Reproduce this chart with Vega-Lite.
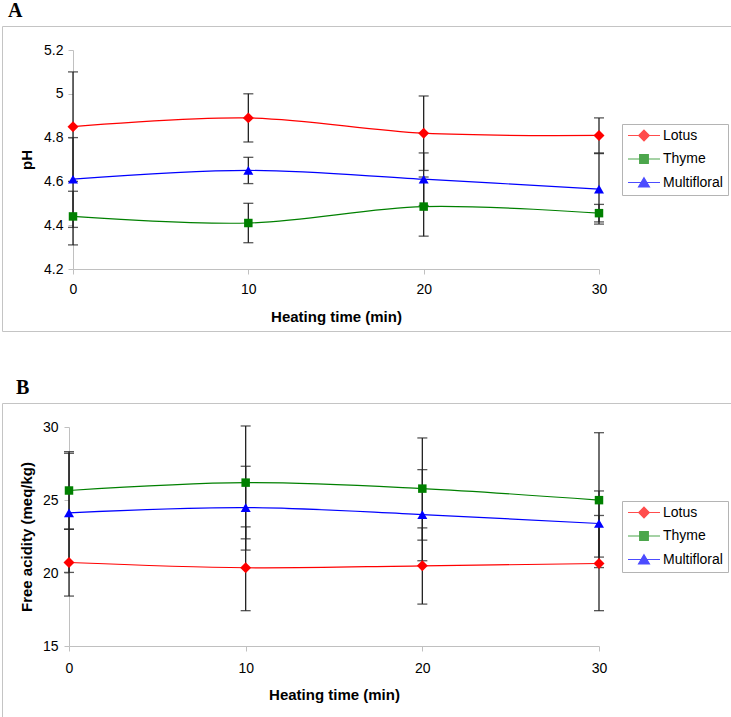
{
  "$schema": "https://vega.github.io/schema/vega-lite/v6.json",
  "background": "white",
  "padding": {"left": 1, "top": 0, "right": 0, "bottom": 0},
  "datasets": {
    "ph": [
      {"time": 0, "honey": "Lotus", "mean": 4.85, "lo": 4.60, "hi": 5.10},
      {"time": 10, "honey": "Lotus", "mean": 4.89, "lo": 4.78, "hi": 5.00},
      {"time": 20, "honey": "Lotus", "mean": 4.82, "lo": 4.65, "hi": 4.99},
      {"time": 30, "honey": "Lotus", "mean": 4.81, "lo": 4.73, "hi": 4.89},
      {"time": 0, "honey": "Thyme", "mean": 4.44, "lo": 4.31, "hi": 4.555},
      {"time": 10, "honey": "Thyme", "mean": 4.41, "lo": 4.32, "hi": 4.50},
      {"time": 20, "honey": "Thyme", "mean": 4.485, "lo": 4.35, "hi": 4.62},
      {"time": 30, "honey": "Thyme", "mean": 4.455, "lo": 4.415, "hi": 4.495},
      {"time": 0, "honey": "Multifloral", "mean": 4.61, "lo": 4.39, "hi": 4.80},
      {"time": 10, "honey": "Multifloral", "mean": 4.65, "lo": 4.59, "hi": 4.71},
      {"time": 20, "honey": "Multifloral", "mean": 4.61, "lo": 4.49, "hi": 4.73},
      {"time": 30, "honey": "Multifloral", "mean": 4.565, "lo": 4.405, "hi": 4.727}
    ],
    "fa": [
      {"time": 0, "honey": "Lotus", "mean": 20.72, "lo": 18.42, "hi": 23.0},
      {"time": 10, "honey": "Lotus", "mean": 20.36, "lo": 17.42, "hi": 23.16},
      {"time": 20, "honey": "Lotus", "mean": 20.49, "lo": 17.87, "hi": 23.09},
      {"time": 30, "honey": "Lotus", "mean": 20.65, "lo": 17.42, "hi": 23.94},
      {"time": 0, "honey": "Thyme", "mean": 25.65, "lo": 23.0, "hi": 28.31},
      {"time": 10, "honey": "Thyme", "mean": 26.19, "lo": 22.34, "hi": 30.07},
      {"time": 20, "honey": "Thyme", "mean": 25.78, "lo": 22.25, "hi": 29.25},
      {"time": 30, "honey": "Thyme", "mean": 24.99, "lo": 20.37, "hi": 29.61},
      {"time": 0, "honey": "Multifloral", "mean": 24.12, "lo": 20.04, "hi": 28.2},
      {"time": 10, "honey": "Multifloral", "mean": 24.48, "lo": 21.57, "hi": 27.31},
      {"time": 20, "honey": "Multifloral", "mean": 24.0, "lo": 20.84, "hi": 27.08},
      {"time": 30, "honey": "Multifloral", "mean": 23.39, "lo": 21.09, "hi": 25.62}
    ]
  },
  "spacing": 45,
  "resolve": {
    "scale": {"color": "independent", "stroke": "independent", "shape": "independent"},
    "legend": {"color": "independent", "stroke": "independent", "shape": "independent"}
  },
  "vconcat": [
    {
      "title": {"text": "A", "anchor": "start", "frame": "group", "font": "Liberation Serif", "fontSize": 20, "fontWeight": "bold", "color": "#000", "dx": 6, "offset": -11, "baseline": "alphabetic"},
      "width": 729,
      "height": 305,
      "data": {"name": "ph"},
      "encoding": {
        "x": {"field": "time", "type": "quantitative", "scale": {"domain": [0, 30], "range": [71, 597], "nice": false, "zero": false}, "axis": {"title": "Heating time (min)", "values": [0, 10, 20, 30], "offset": -62, "labelPadding": 8, "titleY": 47}},
        "y": {"field": "mean", "type": "quantitative", "scale": {"domain": [4.2, 5.2], "range": [243, 24], "nice": false, "zero": false}, "axis": {"title": "pH", "values": [4.2, 4.4, 4.6, 4.8, 5, 5.2], "format": "~g", "offset": -71, "labelPadding": 5, "titleX": -47}}
      },
      "layer": [
        {
          "mark": {"type": "errorbar", "ticks": {"size": 10, "color": "#111111", "thickness": 1.3}, "rule": {"color": "#222222", "strokeWidth": 1.3}},
          "encoding": {
            "y": {"field": "lo", "type": "quantitative", "scale": {"domain": [4.2, 5.2], "range": [243, 24], "nice": false, "zero": false}, "axis": {"title": "pH", "values": [4.2, 4.4, 4.6, 4.8, 5, 5.2], "format": "~g", "offset": -71, "labelPadding": 5, "titleX": -47}},
            "y2": {"field": "hi"}
          }
        },
        {
          "transform": [{"filter": {"field": "honey", "equal": "Thyme"}}],
          "mark": {"type": "line", "color": "#008000", "strokeWidth": 1.2, "interpolate": "catmull-rom", "point": {"filled": true, "shape": "square", "size": 72, "color": "#008000"}}
        },
        {
          "transform": [{"filter": {"field": "honey", "equal": "Multifloral"}}],
          "mark": {"type": "line", "color": "#0000ff", "strokeWidth": 1.2, "interpolate": "catmull-rom", "point": {"filled": true, "shape": "triangle-up", "size": 100, "color": "#0000ff"}}
        },
        {
          "transform": [{"filter": {"field": "honey", "equal": "Lotus"}}],
          "mark": {"type": "line", "color": "#ff0000", "strokeWidth": 1.2, "interpolate": "catmull-rom", "point": {"filled": true, "shape": "diamond", "size": 120, "color": "#ff0000"}}
        },
        {
          "transform": [{"filter": "datum.mean < 0"}],
          "mark": {"type": "point", "filled": true, "strokeWidth": 1.2},
          "encoding": {
            "color": {"field": "honey", "type": "nominal", "scale": {"domain": ["Lotus", "Thyme", "Multifloral"], "range": ["#ff0000", "#008000", "#0000ff"]}, "legend": {"title": null}},
            "stroke": {"field": "honey", "type": "nominal", "scale": {"domain": ["Lotus", "Thyme", "Multifloral"], "range": ["#ff0000", "#008000", "#0000ff"]}, "legend": {"title": null}},
            "shape": {"field": "honey", "type": "nominal", "scale": {"domain": ["Lotus", "Thyme", "Multifloral"], "range": ["M-1,0H1M0,-0.33L0.33,0L0,0.33L-0.33,0Z", "M-1,0H1M-0.27,-0.27H0.27V0.27H-0.27Z", "M-1,0H1M0,-0.3L0.34,0.28H-0.34Z"]}, "legend": {"title": null}}
          }
        }
      ]
    },
    {
      "title": {"text": "B", "anchor": "start", "frame": "group", "font": "Liberation Serif", "fontSize": 20, "fontWeight": "bold", "color": "#000", "dx": 14, "offset": -11, "baseline": "alphabetic"},
      "width": 729,
      "height": 315,
      "data": {"name": "fa"},
      "encoding": {
        "x": {"field": "time", "type": "quantitative", "scale": {"domain": [0, 30], "range": [67, 597], "nice": false, "zero": false}, "axis": {"title": "Heating time (min)", "values": [0, 10, 20, 30], "offset": -72, "labelPadding": 10, "titleY": 48}},
        "y": {"field": "mean", "type": "quantitative", "scale": {"domain": [15, 30], "range": [243, 24], "nice": false, "zero": false}, "axis": {"title": "Free acidity (meq/kg)", "values": [15, 20, 25, 30], "format": "~g", "offset": -67, "labelPadding": 6, "titleX": -43}}
      },
      "layer": [
        {
          "mark": {"type": "errorbar", "ticks": {"size": 10, "color": "#111111", "thickness": 1.3}, "rule": {"color": "#222222", "strokeWidth": 1.3}},
          "encoding": {
            "y": {"field": "lo", "type": "quantitative", "scale": {"domain": [15, 30], "range": [243, 24], "nice": false, "zero": false}, "axis": {"title": "Free acidity (meq/kg)", "values": [15, 20, 25, 30], "format": "~g", "offset": -67, "labelPadding": 6, "titleX": -43}},
            "y2": {"field": "hi"}
          }
        },
        {
          "transform": [{"filter": {"field": "honey", "equal": "Thyme"}}],
          "mark": {"type": "line", "color": "#008000", "strokeWidth": 1.2, "interpolate": "catmull-rom", "point": {"filled": true, "shape": "square", "size": 72, "color": "#008000"}}
        },
        {
          "transform": [{"filter": {"field": "honey", "equal": "Multifloral"}}],
          "mark": {"type": "line", "color": "#0000ff", "strokeWidth": 1.2, "interpolate": "catmull-rom", "point": {"filled": true, "shape": "triangle-up", "size": 100, "color": "#0000ff"}}
        },
        {
          "transform": [{"filter": {"field": "honey", "equal": "Lotus"}}],
          "mark": {"type": "line", "color": "#ff0000", "strokeWidth": 1.2, "interpolate": "catmull-rom", "point": {"filled": true, "shape": "diamond", "size": 120, "color": "#ff0000"}}
        },
        {
          "transform": [{"filter": "datum.mean < 0"}],
          "mark": {"type": "point", "filled": true, "strokeWidth": 1.2},
          "encoding": {
            "color": {"field": "honey", "type": "nominal", "scale": {"domain": ["Lotus", "Thyme", "Multifloral"], "range": ["#ff0000", "#008000", "#0000ff"]}, "legend": {"title": null}},
            "stroke": {"field": "honey", "type": "nominal", "scale": {"domain": ["Lotus", "Thyme", "Multifloral"], "range": ["#ff0000", "#008000", "#0000ff"]}, "legend": {"title": null}},
            "shape": {"field": "honey", "type": "nominal", "scale": {"domain": ["Lotus", "Thyme", "Multifloral"], "range": ["M-1,0H1M0,-0.33L0.33,0L0,0.33L-0.33,0Z", "M-1,0H1M-0.27,-0.27H0.27V0.27H-0.27Z", "M-1,0H1M0,-0.3L0.34,0.28H-0.34Z"]}, "legend": {"title": null}}
          }
        }
      ]
    }
  ],
  "config": {
    "font": "Liberation Sans",
    "view": {"stroke": "#c4c4c4", "strokeWidth": 1},
    "axis": {"grid": false, "domainColor": "#c0c0c0", "tickColor": "#c0c0c0", "tickSize": 5, "labelFont": "Liberation Sans", "labelFontSize": 14, "labelColor": "#000000", "titleFont": "Liberation Sans", "titleFontSize": 15, "titleFontWeight": "bold", "titleColor": "#000000", "titleBaseline": "middle", "labelFlush": false, "labelOverlap": false},
    "legend": {"orient": "none", "legendX": 620, "legendY": 98, "padding": 5, "strokeColor": "#b4b4b4", "labelFont": "Liberation Sans", "labelFontSize": 14, "labelColor": "#000000", "labelOffset": 2, "symbolSize": 1024, "clipHeight": 13, "rowPadding": 8.5, "symbolStrokeWidth": 1.2, "labelLimit": 0}
  }
}
